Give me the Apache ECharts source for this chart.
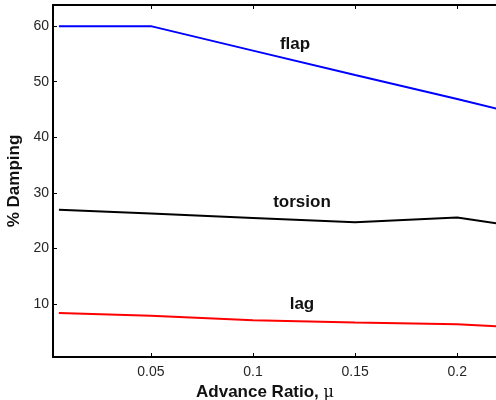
<!DOCTYPE html>
<html>
<head>
<meta charset="utf-8">
<script src="https://cdn.jsdelivr.net/npm/echarts@6/dist/echarts.min.js"></script>
<style>html,body{margin:0;padding:0;background:#fff}#c{width:496px;height:400px}</style>
</head>
<body>
<div id="c"></div>
<script>
const mu = [0.005, 0.05, 0.1, 0.15, 0.2, 0.22];
const flap = [60, 60, 55.6, 51.2, 46.9, 45.1];
const torsion = [27.0, 26.3, 25.5, 24.75, 25.6, 24.5];
const lag = [8.4, 7.9, 7.1, 6.7, 6.4, 6.0];
const xTicks = [0.05, 0.1, 0.15, 0.2];
const yTicks = [10, 20, 30, 40, 50, 60];
const labels = [
  {name: 'flap', coord: [0.1206, 56.8]},
  {name: 'torsion', coord: [0.124, 28.3]},
  {name: 'lag', coord: [0.124, 10.0]}
];

const font = 'Liberation Sans, Arial, sans-serif';
const chart = echarts.init(document.getElementById('c'), null, {renderer: 'canvas'});
function mk(vals) { return mu.map((m, i) => [m, vals[i]]); }
function labelPoint(l) {
  return {
    symbol: 'rect', symbolSize: [1, 1],
    itemStyle: {color: 'rgba(0,0,0,0)'},
    label: {show: true, position: 'inside', formatter: l.name, color: '#111',
      fontFamily: font, fontWeight: 'bold', fontSize: 17},
    data: [{coord: l.coord}]
  };
}
const axisLine = {show: true, lineStyle: {color: '#000', width: 2}};
chart.setOption({
  animation: false,
  grid: {left: 53, right: 0, top: 5, bottom: 43, containLabel: false, outerBoundsMode: 'none'},
  xAxis: [{
    type: 'value', min: 0.0021, max: 0.219, position: 'bottom',
    axisLine: axisLine, splitLine: {show: false},
    axisTick: {show: true, inside: true, length: 4, lineStyle: {color: '#000', width: 1}, customValues: xTicks},
    axisLabel: {color: '#262626', fontFamily: font, fontSize: 14, margin: 8, customValues: xTicks,
      formatter: v => String(+v.toFixed(2))},
    name: 'Advance Ratio, {mu|μ}', nameLocation: 'middle', nameGap: 26,
    nameTextStyle: {color: '#111', fontFamily: font, fontWeight: 'bold', fontSize: 17, padding: [0, 19, 0, 0],
      rich: {mu: {fontFamily: 'DejaVu Serif, serif', fontWeight: 'normal', fontSize: 16, color: '#111'}}}
  }, {
    type: 'value', min: 0.0021, max: 0.219, position: 'top',
    axisLine: axisLine, splitLine: {show: false},
    axisTick: {show: true, inside: true, length: 4, lineStyle: {color: '#000', width: 1}, customValues: xTicks},
    axisLabel: {show: false}
  }],
  yAxis: {
    type: 'value', min: 0.5, max: 63.8,
    axisLine: axisLine, splitLine: {show: false},
    axisTick: {show: true, inside: true, length: 4, lineStyle: {color: '#000', width: 1}, customValues: yTicks},
    axisLabel: {color: '#262626', fontFamily: font, fontSize: 14, margin: 4, customValues: yTicks},
    name: '% Damping', nameLocation: 'middle', nameGap: 24,
    nameTextStyle: {color: '#111', fontFamily: font, fontWeight: 'bold', fontSize: 17}
  },
  series: [
    {type: 'line', data: mk(flap), showSymbol: false, clip: true,
      lineStyle: {color: '#0000ff', width: 2}, markPoint: labelPoint(labels[0])},
    {type: 'line', data: mk(torsion), showSymbol: false, clip: true,
      lineStyle: {color: '#000000', width: 2}, markPoint: labelPoint(labels[1])},
    {type: 'line', data: mk(lag), showSymbol: false, clip: true,
      lineStyle: {color: '#ff0000', width: 2}, markPoint: labelPoint(labels[2])}
  ]
});
</script>
</body>
</html>
